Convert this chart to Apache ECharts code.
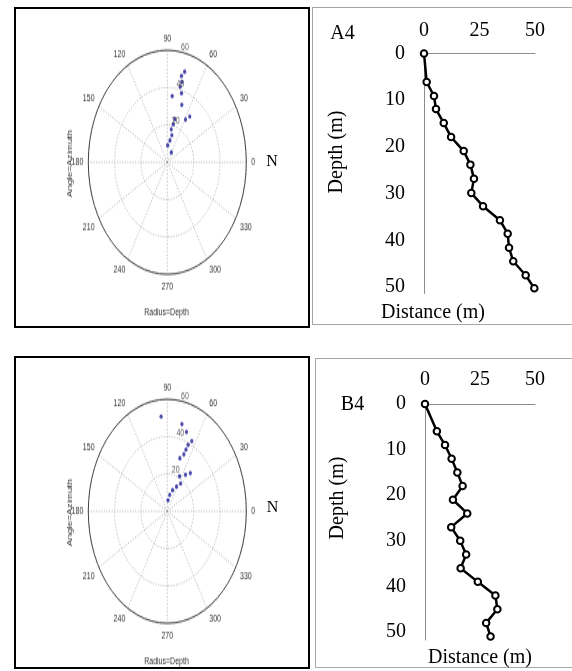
<!DOCTYPE html>
<html>
<head>
<meta charset="utf-8">
<script src="https://cdn.jsdelivr.net/npm/echarts@6/dist/echarts.min.js"></script>
<style>
    body { margin: 0; background: #fff; }
    #page { position: relative; width: 572px; height: 671px; overflow: hidden; background: #fff; }
    .box { position: absolute; box-sizing: border-box; }
    .frame { border: 2px solid #000; }
    .cell { border: 1px solid #a6a6a6; }
    .polar { position: absolute; left: 16px; width: 292px; height: 223px; transform: scaleY(1.4177); transform-origin: 0 0; }
    #lines { position: absolute; left: 0; top: 0; width: 572px; height: 671px; }
</style>
</head>
<body>
<div id="page">
    <div class="box frame" style="left:14px; top:7px; width:296px; height:321px;"></div>
    <div class="box cell" style="left:312px; top:7px; width:270px; height:318px;"></div>
    <div class="box frame" style="left:14px; top:356px; width:296px; height:313px;"></div>
    <div class="box cell" style="left:315px; top:358px; width:270px; height:310px;"></div>
    <div id="polar-a" class="polar" style="top:9px;"></div>
    <div id="polar-b" class="polar" style="top:357.7px;"></div>
    <div id="lines"></div>
</div>
<script>
    // depth (m) of each reading, first one is the collar
    const depthA4 = [0, 6.1, 9.1, 11.9, 14.9, 17.9, 20.9, 23.8, 26.8, 29.9, 32.7, 35.7, 38.6, 41.6, 44.5, 47.5, 50.3];
    const depthB4 = [0, 6, 9, 12, 15, 18, 21, 24, 27, 30, 33, 36, 39, 42, 45, 48, 51];

    // horizontal distance (m) from the collar
    const distA4 = [0, 1.2, 4.5, 5.4, 8.9, 12.2, 17.9, 20.9, 22.5, 21.3, 26.6, 34.2, 37.7, 38.3, 40.2, 45.8, 49.7];
    const distB4 = [0, 5.4, 9.1, 12.1, 14.7, 17.1, 12.7, 19.2, 11.9, 16.0, 18.7, 16.2, 24.0, 32.0, 32.9, 27.8, 29.8];

    // azimuth (deg) for every reading below the collar
    const azimA4 = [59.5, 88, 80.3, 76.5, 80.3, 77.4, 76.2, 58.9, 55.2, 70.3, 84, 73.8, 76.4, 75.6, 76.9, 74.8];
    const azimB4 = [84.8, 78.2, 70.4, 62.1, 55.7, 63.6, 54.8, 49.6, 71.4, 67.6, 66.8, 66.1, 63.7, 71.1, 76.6, 95.3];

    const ringTicks = [20, 40, 60];
    const distTicks = [0, 25, 50];

    const serif = 'Liberation Serif';
    const dotted = {color: '#a0a0a0', type: [1, 1.6], width: 0.8};

    function polarOption(depth, azim) {
        let pts = [];
        for (let i = 1; i < depth.length; i++) {
            pts.push([depth[i], azim[i - 1]]);
        }
        return {
            animation: false,
            polar: {center: [151.3, 108.1], radius: 79},
            angleAxis: {
                type: 'value', min: 0, max: 360, interval: 30,
                startAngle: 0, clockwise: false,
                axisLine: {lineStyle: {color: '#444', width: 1}},
                axisTick: {show: false},
                axisLabel: {
                    margin: 5, fontSize: 7, color: '#333', fontFamily: 'Arial',
                    formatter: function (v) { return v === 360 ? '' : String(v); }
                },
                splitLine: {lineStyle: dotted}
            },
            radiusAxis: {
                type: 'value', min: 0, max: ringTicks[ringTicks.length - 1], interval: 20,
                axisLine: {show: false},
                axisTick: {show: false},
                axisLabel: {show: false},
                splitLine: {lineStyle: dotted}
            },
            series: [
                {
                    type: 'scatter', coordinateSystem: 'polar', silent: true,
                    symbolSize: 0,
                    data: ringTicks.map(function (r) { return [r, 80]; }),
                    label: {
                        show: true, position: 'insideBottomLeft', distance: 0,
                        fontSize: 7, color: '#333', fontFamily: 'Arial',
                        formatter: function (p) { return p.value[0]; }
                    }
                },
                {
                    type: 'scatter', coordinateSystem: 'polar',
                    symbolSize: 3.2,
                    itemStyle: {color: '#1a1a96'},
                    data: pts
                }
            ],
            graphic: [
                {
                    type: 'text', x: 54.5, y: 109, rotation: Math.PI / 2,
                    style: {text: 'Angle=Azimuth', fontSize: 7, fontFamily: 'Arial', fill: '#333', align: 'center', verticalAlign: 'middle'}
                },
                {
                    type: 'text', x: 150.5, y: 214.4,
                    style: {text: 'Radius=Depth', fontSize: 7, fontFamily: 'Arial', fill: '#333', align: 'center', verticalAlign: 'middle'}
                }
            ]
        };
    }

    function pairs(dist, depth) {
        return dist.map(function (d, i) { return [d, depth[i]]; });
    }

    function xAx(idx, gap) {
        return {
            gridIndex: idx, type: 'value', position: 'top',
            min: distTicks[0], max: distTicks[distTicks.length - 1], interval: 25,
            axisLine: {onZero: false, lineStyle: {color: '#8c8c8c', width: 1}},
            axisTick: {show: false},
            splitLine: {show: false},
            axisLabel: {fontSize: 20, fontFamily: serif, color: '#000', margin: gap}
        };
    }

    function yAx(idx, max) {
        return {
            gridIndex: idx, type: 'value', inverse: true,
            min: 0, max: max, interval: 10,
            axisLine: {show: true, onZero: false, lineStyle: {color: '#8c8c8c', width: 1}},
            axisTick: {show: false},
            splitLine: {show: false},
            axisLabel: {
                fontSize: 20, fontFamily: serif, color: '#000', margin: 19,
                formatter: function (v) { return v % 10 === 0 ? String(v) : ''; }
            }
        };
    }

    function lineSeries(idx, data) {
        return {
            type: 'line', xAxisIndex: idx, yAxisIndex: idx,
            data: data, clip: false,
            symbol: 'circle', symbolSize: 6.5, showAllSymbol: true,
            lineStyle: {color: '#000', width: 2.5},
            itemStyle: {color: '#fff', borderColor: '#000', borderWidth: 2}
        };
    }

    function label(text, x, y, size, rot) {
        return {
            type: 'text', x: x, y: y, rotation: rot || 0,
            style: {text: text, fontSize: size, fontFamily: serif, fill: '#000', align: 'center', verticalAlign: 'middle'}
        };
    }

    let lineOption = {
        animation: false,
        grid: [
            {left: 424, top: 53.5, width: 111, height: 240},
            {left: 425, top: 404, width: 110, height: 236}
        ],
        xAxis: [xAx(0, 13), xAx(1, 14)],
        yAxis: [yAx(0, 51.4), yAx(1, 51.75)],
        series: [
            lineSeries(0, pairs(distA4, depthA4)),
            lineSeries(1, pairs(distB4, depthB4))
        ],
        graphic: [
            label('A4', 342.5, 33.5, 20),
            label('B4', 352.5, 405, 20),
            label('Depth (m)', 337, 152, 20, Math.PI / 2),
            label('Depth (m)', 338, 498, 20, Math.PI / 2),
            label('Distance (m)', 433, 313, 20),
            label('Distance (m)', 480, 658, 20),
            label('N', 272, 162, 16),
            label('N', 272.5, 508, 16)
        ]
    };

    let polarA = echarts.init(document.getElementById('polar-a'));
    let polarB = echarts.init(document.getElementById('polar-b'));
    let lineChart = echarts.init(document.getElementById('lines'));

    polarA.setOption(polarOption(depthA4, azimA4));
    polarB.setOption(polarOption(depthB4, azimB4));
    lineChart.setOption(lineOption);
</script>
</body>
</html>
